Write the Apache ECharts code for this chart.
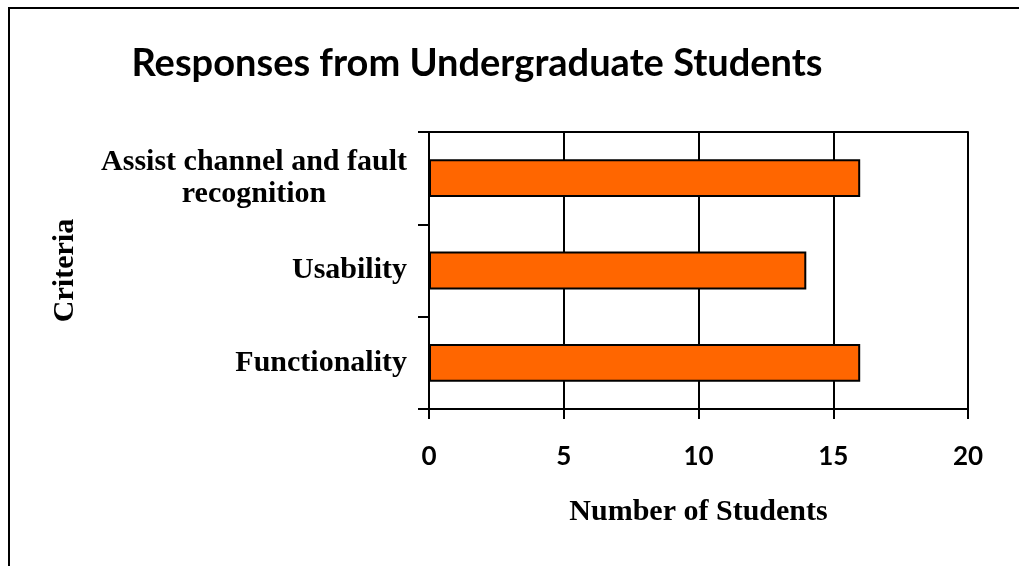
<!DOCTYPE html>
<html>
<head>
<meta charset="utf-8">
<script src="https://cdn.jsdelivr.net/npm/echarts@6/dist/echarts.min.js"></script>
<style>html,body{margin:0;padding:0;background:#fff}#c{width:1019px;height:566px}</style>
</head>
<body>
<div id="c"></div>
<script>
var categories = ['Functionality', 'Usability', 'Assist channel and fault\nrecognition'];
var values = [16, 14, 16];
var xTicks = [0, 5, 10, 15, 20];

var chart = echarts.init(document.getElementById('c'));
var serif = '"Liberation Serif", "Times New Roman", serif';
var sans = 'Lato, "Open Sans", sans-serif';
chart.setOption({
  animation: false,
  backgroundColor: '#fff',
  title: {
    text: 'Responses from Undergraduate Students',
    left: 472, top: 40, textAlign: 'center',
    textStyle: { fontFamily: sans, fontWeight: 'bold', fontSize: 38, color: '#000' }
  },
  graphic: [{
    type: 'rect', shape: { x: 9, y: 8, width: 1100, height: 700 },
    style: { fill: 'none', stroke: '#000', lineWidth: 2 }, silent: true, z: 100
  }],
  grid: { left: 429, right: 51, top: 132, bottom: 157 },
  xAxis: [{
    type: 'value', min: xTicks[0], max: xTicks[xTicks.length - 1], interval: 5,
    name: 'Number of Students', nameLocation: 'middle', nameGap: 88,
    nameTextStyle: { fontFamily: serif, fontWeight: 'bold', fontSize: 30, color: '#000' },
    axisLine: { show: true, lineStyle: { color: '#000', width: 2 } },
    axisTick: { show: true, length: 10, lineStyle: { color: '#000', width: 2 } },
    axisLabel: { margin: 35, fontFamily: sans, fontWeight: 'bold', fontSize: 26, color: '#000' },
    splitLine: { show: true, lineStyle: { color: '#000', width: 2 } }
  }, {
    type: 'value', position: 'top', min: 0, max: 20, interval: 5,
    axisLine: { show: true, lineStyle: { color: '#000', width: 2 } },
    axisTick: { show: false }, axisLabel: { show: false }, splitLine: { show: false }
  }],
  yAxis: {
    type: 'category', data: categories,
    name: 'Criteria', nameLocation: 'middle', nameGap: 349, nameRotate: 90,
    nameTextStyle: { fontFamily: serif, fontWeight: 'bold', fontSize: 30, color: '#000' },
    axisLine: { show: true, lineStyle: { color: '#000', width: 2 } },
    axisTick: { show: true, length: 11, lineStyle: { color: '#000', width: 2 } },
    axisLabel: {
      margin: 22, align: 'right', color: '#000',
      fontFamily: serif, fontWeight: 'bold', fontSize: 30, lineHeight: 32,
      formatter: function (v) {
        return v.split('\n').map(function (s) { return '{c|' + s + '}'; }).join('\n');
      },
      rich: { c: { align: 'center', fontFamily: serif, fontWeight: 'bold', fontSize: 30, lineHeight: 32, color: '#000' } }
    }
  },
  series: [{
    type: 'bar', data: values, barWidth: '41%',
    itemStyle: { color: '#FF6600', borderColor: '#000', borderWidth: 2 }
  }]
});
</script>
</body>
</html>
